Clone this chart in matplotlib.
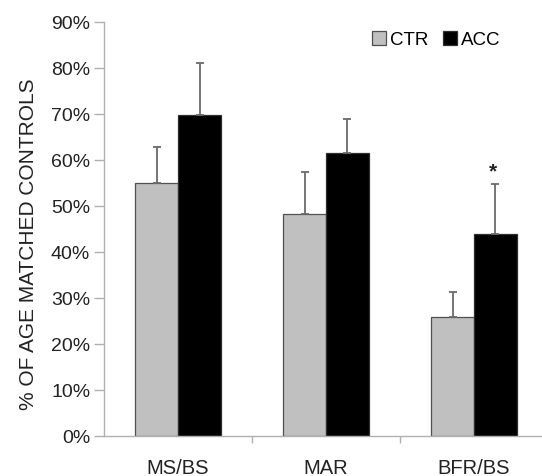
import matplotlib.pyplot as plt
import numpy as np

categories = ['MS/BS', 'MAR', 'BFR/BS']
ctr_values = [55.0, 48.2, 25.8]
ctr_errors = [7.8, 9.2, 5.5]
acc_values = [69.8, 61.5, 43.8]
acc_errors = [11.2, 7.4, 10.9]
y_ticks = [0, 10, 20, 30, 40, 50, 60, 70, 80, 90]

plt.rcParams['font.family'] = ['Liberation Sans', 'DejaVu Sans']

fig = plt.figure(figsize=(5.42, 4.77), dpi=100)
ax = fig.add_axes([0.192, 0.084, 0.819, 0.868])

x = np.arange(len(categories))
w = 0.29
axis_grey = '#b0b0b0'
err_style = dict(ecolor='#6a6a6a', elinewidth=1.3, capsize=3, capthick=1.3)
ax.bar(x - w / 2, ctr_values, w, color='#c0c0c0', edgecolor='#505050', linewidth=0.9,
       yerr=[np.zeros(3), ctr_errors], error_kw=err_style, label='CTR', zorder=2)
ax.bar(x + w / 2, acc_values, w, color='black', edgecolor='#303030', linewidth=0.9,
       yerr=[np.zeros(3), acc_errors], error_kw=err_style, label='ACC', zorder=2)

# significance marker
ax.text(x[2] + w / 2 - 0.02, acc_values[2] + acc_errors[2] + 0.8, '*', ha='center', va='bottom',
        fontsize=15, fontweight='bold', color='#222222')

ax.set_xlim(-0.5, 2.5)
ax.set_ylim(0, 90)
ax.set_yticks(y_ticks)
ax.set_yticklabels([f'{t}%' for t in y_ticks], fontsize=14, color='#222222')
ax.set_xticks(x)
ax.set_xticklabels(categories, fontsize=14.5, color='#222222')
ax.tick_params(axis='x', length=0, pad=16)
ax.set_xticks([0.5, 1.5], minor=True)
ax.tick_params(axis='x', which='minor', length=5, color=axis_grey, width=1)
ax.tick_params(axis='y', length=7, color=axis_grey, width=1, pad=3)

for side in ['top', 'right']:
    ax.spines[side].set_visible(False)
for side in ['left', 'bottom']:
    ax.spines[side].set_color(axis_grey)
    ax.spines[side].set_linewidth(1)

ax.set_ylabel('% OF AGE MATCHED CONTROLS', fontsize=15, color='#222222', labelpad=9)
ax.yaxis.label.set_y(0.466)

ax.legend(loc='upper left', bbox_to_anchor=(0.604, 0.978), ncol=2, frameon=False, fontsize=13.5,
          borderpad=0, borderaxespad=0, handlelength=0.75, handleheight=0.75, handletextpad=0.2,
          columnspacing=0.8)

fig.savefig('out.png', dpi=100)
